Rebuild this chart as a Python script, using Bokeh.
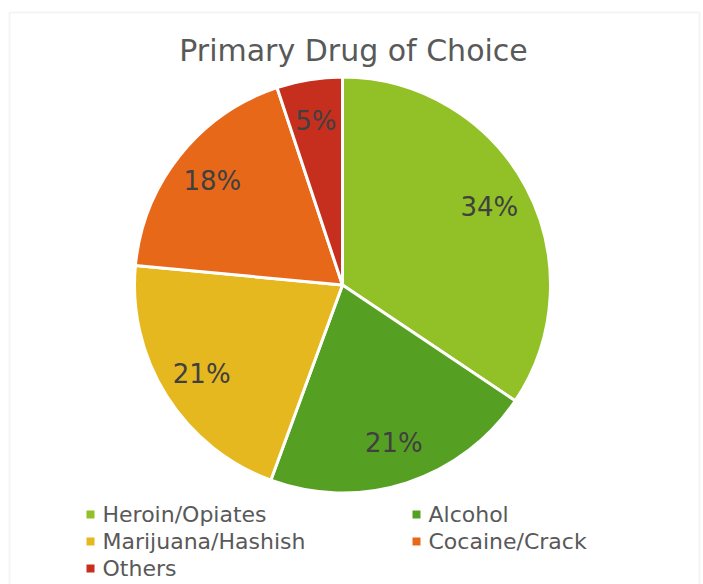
import math
from bokeh.plotting import figure
from bokeh.models import Range1d, BoxAnnotation, ColumnDataSource
from bokeh.core.properties import value
from bokeh.embed import file_html
from bokeh.resources import INLINE

# ---- data ----
title = "Primary Drug of Choice"
categories = ["Heroin/Opiates", "Alcohol", "Marijuana/Hashish", "Cocaine/Crack", "Others"]
shares = [34.4, 21.2, 20.9, 18.4, 5.1]
colors = ["#92C127", "#55A023", "#E6B820", "#E8681A", "#C62F1E"]

W, H = 703, 584
FONT = "DejaVu Sans"

p = figure(width=W, height=H, output_backend="svg", toolbar_location=None,
           x_range=Range1d(0, W), y_range=Range1d(0, H),
           min_border=0, outline_line_color=None)
p.axis.visible = False
p.grid.visible = False
p.background_fill_color = "white"
p.border_fill_color = "white"

# chart area border
p.add_layout(BoxAnnotation(left=9, right=699, top=572, bottom=-20,
                           fill_color=None, line_color="#d9d9d9", line_width=2))

# pie
cx, cy, R = 342, 299.5, 208
total = sum(shares)
starts, ends, lx, ly, labels = [], [], [], [], []
cum = 0.0
for s in shares:
    a0 = math.pi / 2 - 2 * math.pi * cum / total
    a1 = math.pi / 2 - 2 * math.pi * (cum + s) / total
    starts.append(a0)
    ends.append(a1)
    mid = (a0 + a1) / 2
    lx.append(cx + 0.8 * R * math.cos(mid))
    ly.append(cy + 0.8 * R * math.sin(mid))
    labels.append(f"{round(s)}%")
    cum += s

src = ColumnDataSource(dict(start=starts, end=ends, color=colors))
p.wedge(x=cx, y=cy, radius=R, start_angle="start", end_angle="end",
        direction="clock", fill_color="color", line_color="white",
        line_width=3, source=src)

p.text(x=lx, y=ly, text=labels, text_align="center", text_baseline="middle",
       text_font=value(FONT), text_font_size="26px", text_color="#404040")

# title
p.text(x=[353], y=[534], text=[title], text_align="center", text_baseline="middle",
       text_font=value(FONT), text_font_size="30px", text_color="#595959")

# legend (two columns, row-major)
col_x = [90, 416]
row_y = [70, 43, 16]
sq_x, sq_y, tx, ty = [], [], [], []
for i, name in enumerate(categories):
    r, c = divmod(i, 2)
    sq_x.append(col_x[c])
    sq_y.append(row_y[r])
    tx.append(col_x[c] + 12)
    ty.append(row_y[r])
p.scatter(x=sq_x, y=sq_y, marker="square", size=8, fill_color=colors, line_color=None)
p.text(x=tx, y=ty, text=categories, text_align="left", text_baseline="middle",
       text_font=value(FONT), text_font_size="22px", text_color="#595959")

open("out.html", "w").write(file_html(p, INLINE))
